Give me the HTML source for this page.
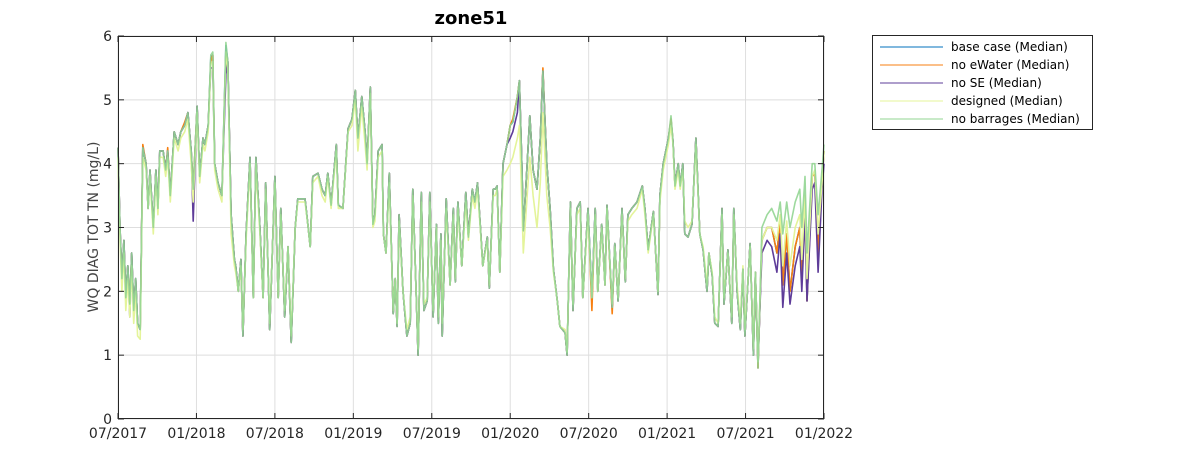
<!DOCTYPE html>
<html><head><meta charset="utf-8"><style>
body{margin:0;background:#fff;}
svg{display:block;font-family:"DejaVu Sans","Liberation Sans",sans-serif;}
</style></head><body>
<svg id="chart" width="1181" height="472" viewBox="0 0 1181 472" xmlns="http://www.w3.org/2000/svg">
<rect width="1181" height="472" fill="#fff"/>
<text x="471" y="24" text-anchor="middle" font-size="18" font-weight="bold" fill="#000">zone51</text>
<text transform="translate(98,227) rotate(-90)" text-anchor="middle" font-size="14" fill="#444">WQ DIAG TOT TN (mg/L)</text>
<g id="grid"></g>
<g id="series"></g>
<g id="axes"></g>
<g id="legend"></g>
</svg>
<script>
const xTickLabels=["07/2017","01/2018","07/2018","01/2019","07/2019","01/2020","07/2020","01/2021","07/2021","01/2022"];
const yTickValues=[0,1,2,3,4,5,6];
const seriesNames=["base case (Median)","no eWater (Median)","no SE (Median)","designed (Median)","no barrages (Median)"];
const seriesColors=["#0072bd","#f77f10","#5e3c99","#e4f49a","#92d592"];
const months=[0,.15,.3,.45,.6,.75,.9,1.05,1.2,1.35,
1.5,1.7,1.9,2.15,2.3,2.45,2.7,2.9,3.05,3.2,
3.45,3.65,3.8,4.0,4.3,4.6,4.8,5.1,5.35,5.6,
5.75,6.05,6.25,6.5,6.65,6.9,7.1,7.25,7.4,7.65,
7.95,8.25,8.4,8.65,8.9,9.0,9.2,9.4,9.55,9.8,
10.1,10.35,10.55,10.85,11.1,11.3,11.6,12.0,12.25,12.45,
12.75,13.0,13.25,13.55,13.75,14.05,14.3,14.55,14.7,14.9,
15.3,15.6,15.85,16.05,16.3,16.7,16.85,17.2,17.6,17.9,
18.15,18.35,18.65,18.9,19.05,19.3,19.5,19.65,19.9,20.2,
20.3,20.5,20.75,21.05,21.2,21.35,21.5,21.8,22.1,22.35,
22.55,22.8,22.95,23.2,23.4,23.65,23.85,24.1,24.35,24.5,
24.7,24.8,25.1,25.4,25.65,25.8,26.0,26.3,26.6,26.8,
27.1,27.3,27.5,27.7,27.9,28.25,28.4,28.7,28.85,29.0,
29.2,29.45,29.75,30.0,30.2,30.55,30.7,30.9,31.0,31.3,
31.5,31.75,32.05,32.3,32.5,32.8,33.05,33.3,33.6,33.8,
34.2,34.35,34.6,34.8,35.1,35.35,35.55,35.95,36.25,36.5,
36.7,37.0,37.25,37.4,37.8,38.0,38.25,38.55,38.8,39.0,
39.3,39.7,40.1,40.3,40.55,40.95,41.3,41.45,41.7,42.1,
42.3,42.45,42.6,42.85,43.0,43.2,43.35,43.6,43.9,44.2,
44.5,44.75,45.05,45.2,45.45,45.65,45.9,46.2,46.35,46.65,
46.95,47.1,47.35,47.6,47.8,47.95,48.35,48.6,48.75,48.95,
49.25,49.65,50.0,50.4,50.65,50.85,51.15,51.4,51.8,52.15,
52.3,52.55,52.7,53.1,53.3,53.55,53.85,54.0];
const baseCase=[4.25,3.0,2.2,2.8,1.9,2.4,1.8,2.6,1.7,2.2,
1.5,1.4,4.25,4.0,3.3,3.9,3.0,3.9,3.3,4.2,
4.2,3.9,4.2,3.5,4.5,4.3,4.5,4.6,4.8,4.2,
3.6,4.9,3.8,4.4,4.3,4.6,5.65,5.7,4.0,3.7,
3.5,5.85,5.6,3.2,2.5,2.4,2.0,2.5,1.3,2.9,
4.1,1.9,4.1,3.0,1.9,3.7,1.4,3.8,1.9,3.3,
1.6,2.7,1.2,3.0,3.45,3.45,3.45,3.0,2.7,3.8,
3.85,3.6,3.5,3.85,3.35,4.3,3.35,3.3,4.55,4.7,
5.15,4.4,5.05,4.5,4.0,5.2,3.05,3.2,4.2,4.3,
2.9,2.6,3.85,1.65,2.2,1.45,3.2,2.0,1.3,1.5,
3.6,2.0,1.0,3.55,1.7,1.85,3.55,1.6,3.05,1.5,
2.9,1.3,3.45,2.1,3.3,2.15,3.4,2.4,3.55,2.85,
3.6,3.4,3.7,3.05,2.4,2.85,2.05,3.6,3.6,3.65,
2.3,4.0,4.3,4.6,4.65,5.05,5.3,3.9,2.95,4.0,
4.75,3.9,3.6,4.4,5.45,4.0,3.3,2.35,1.85,1.45,
1.35,1.0,3.4,1.7,3.3,3.4,1.9,3.3,1.9,3.3,
2.0,3.05,2.1,3.35,1.75,2.75,1.85,3.3,2.15,3.2,
3.3,3.4,3.65,3.3,2.65,3.25,1.95,3.5,4.0,4.4,
4.7,4.35,3.65,4.0,3.65,4.0,2.9,2.85,3.05,4.4,
2.9,2.65,2.0,2.6,2.25,1.5,1.45,3.3,1.8,2.65,
1.5,3.3,2.0,1.4,2.35,1.3,2.75,1.0,2.3,0.8,
2.8,3.0,3.0,2.6,3.1,2.1,2.9,2.0,2.7,3.0,
2.2,3.4,1.85,3.8,3.85,2.6,3.75,4.2];
const noEwater=[4.25,3.0,2.2,2.8,1.9,2.4,1.8,2.6,1.7,2.2,
1.5,1.4,4.3,4.0,3.3,3.9,3.0,3.9,3.3,4.2,
4.2,3.9,4.25,3.5,4.5,4.3,4.5,4.65,4.8,4.2,
3.6,4.9,3.8,4.4,4.3,4.6,5.6,5.7,4.0,3.7,
3.5,5.75,5.6,3.2,2.5,2.4,2.0,2.5,1.3,2.9,
4.1,1.9,4.1,3.0,1.9,3.7,1.4,3.8,1.9,3.3,
1.6,2.7,1.2,3.0,3.45,3.45,3.45,3.0,2.7,3.8,
3.85,3.6,3.5,3.85,3.35,4.3,3.35,3.3,4.55,4.7,
5.15,4.4,5.05,4.5,4.0,5.2,3.05,3.2,4.2,4.3,
2.9,2.6,3.85,1.65,2.2,1.45,3.2,2.0,1.3,1.5,
3.6,2.0,1.0,3.55,1.7,1.85,3.55,1.6,3.05,1.5,
2.9,1.3,3.45,2.1,3.3,2.15,3.4,2.4,3.55,2.85,
3.6,3.4,3.7,3.05,2.4,2.85,2.05,3.6,3.6,3.65,
2.3,4.0,4.3,4.6,4.7,5.05,5.3,3.9,2.95,4.0,
4.75,3.9,3.6,4.4,5.5,4.0,3.3,2.35,1.85,1.45,
1.35,1.0,3.4,1.7,3.3,3.4,1.9,3.3,1.7,3.3,
2.0,3.05,2.1,3.35,1.65,2.75,1.85,3.3,2.15,3.2,
3.3,3.4,3.65,3.3,2.65,3.25,1.95,3.5,4.0,4.4,
4.7,4.35,3.65,4.0,3.65,4.0,2.9,2.85,3.05,4.4,
2.9,2.65,2.0,2.6,2.25,1.5,1.45,3.3,1.8,2.65,
1.5,3.3,2.0,1.4,2.35,1.3,2.75,1.0,2.3,0.8,
2.8,3.0,3.0,2.6,3.1,2.1,2.9,2.0,2.7,3.0,
2.2,3.4,1.85,3.8,3.85,2.6,3.75,4.2];
const noSE=[4.25,3.0,2.2,2.8,1.9,2.4,1.6,2.6,1.7,2.2,
1.5,1.4,4.25,4.0,3.3,3.9,3.0,3.9,3.3,4.2,
4.2,3.9,4.2,3.5,4.5,4.3,4.5,4.6,4.8,4.2,
3.1,4.9,3.8,4.4,4.3,4.6,5.5,5.5,4.0,3.7,
3.5,5.4,5.6,3.2,2.5,2.4,2.0,2.5,1.3,2.9,
4.1,1.9,4.1,3.0,1.9,3.7,1.4,3.8,1.9,3.3,
1.6,2.7,1.2,3.0,3.45,3.45,3.45,3.0,2.7,3.8,
3.85,3.6,3.5,3.85,3.35,4.3,3.35,3.3,4.55,4.7,
5.15,4.4,5.05,4.5,4.0,5.2,3.05,3.2,4.2,4.3,
2.9,2.6,3.85,1.65,2.2,1.45,3.2,2.0,1.3,1.5,
3.6,2.0,1.0,3.55,1.7,1.85,3.55,1.6,3.05,1.5,
2.9,1.3,3.45,2.1,3.3,2.15,3.4,2.4,3.55,2.85,
3.6,3.4,3.7,3.05,2.4,2.85,2.05,3.6,3.6,3.65,
2.3,4.0,4.3,4.4,4.5,4.8,5.3,3.9,2.95,4.0,
4.75,3.9,3.6,4.4,5.45,4.0,3.3,2.35,1.85,1.45,
1.35,1.0,3.4,1.7,3.3,3.4,1.9,3.3,1.9,3.3,
2.0,3.05,2.1,3.35,1.75,2.75,1.85,3.3,2.15,3.2,
3.3,3.4,3.65,3.3,2.65,3.25,1.95,3.5,4.0,4.4,
4.6,4.35,3.65,4.0,3.65,4.0,2.9,2.85,3.05,4.4,
2.9,2.65,2.0,2.6,2.25,1.5,1.45,3.3,1.8,2.65,
1.5,3.3,2.0,1.4,2.35,1.3,2.75,1.0,2.3,0.9,
2.6,2.8,2.7,2.3,2.9,1.75,2.6,1.8,2.4,2.7,
2.0,3.2,1.85,3.6,3.7,2.3,3.6,4.0];
const designed=[4.1,2.8,2.0,2.6,1.7,2.2,1.6,2.4,1.5,2.0,
1.3,1.25,4.1,3.9,3.3,3.8,2.9,3.8,3.2,4.1,
4.1,3.8,4.1,3.4,4.4,4.2,4.4,4.5,4.7,4.0,
3.4,4.8,3.7,4.3,4.2,4.5,5.55,5.6,3.9,3.6,
3.4,5.75,5.5,2.9,2.4,2.3,2.0,2.4,1.4,2.8,
4.0,1.9,4.0,2.9,1.9,3.6,1.5,3.7,1.9,3.2,
1.7,2.7,1.3,3.0,3.4,3.4,3.4,3.0,2.7,3.7,
3.8,3.5,3.4,3.8,3.3,4.2,3.3,3.3,4.5,4.6,
5.0,4.2,4.9,4.3,3.9,5.1,3.0,3.1,4.1,4.2,
2.9,2.6,3.7,1.7,2.2,1.5,3.1,2.0,1.4,1.6,
3.5,2.0,1.1,3.4,1.8,1.9,3.4,1.7,3.0,1.6,
2.8,1.5,3.3,2.1,3.2,2.2,3.3,2.4,3.4,2.8,
3.5,3.3,3.6,3.0,2.4,2.8,2.1,3.5,3.5,3.6,
2.3,3.8,3.9,4.0,4.1,4.4,4.6,3.3,2.6,3.5,
4.1,3.5,3.0,3.7,4.8,3.5,3.0,2.3,1.85,1.45,
1.4,1.05,3.3,1.8,3.2,3.3,1.9,3.2,1.9,3.2,
2.0,3.0,2.1,3.3,1.8,2.7,1.9,3.2,2.2,3.1,
3.2,3.3,3.6,3.2,2.6,3.2,2.0,3.4,3.9,4.3,
4.6,4.3,3.6,3.9,3.6,3.9,3.1,3.0,3.1,4.3,
2.9,2.7,2.1,2.6,2.3,1.6,1.5,3.2,1.9,2.6,
1.6,3.2,2.1,1.5,2.4,1.4,2.7,1.1,2.3,0.9,
2.8,3.0,3.0,2.8,3.2,2.4,3.1,2.4,3.0,3.2,
2.5,3.5,2.2,3.8,3.9,2.9,3.7,4.2];
const noBarrages=[4.25,3.0,2.2,2.8,1.9,2.4,1.8,2.6,1.7,2.2,
1.5,1.4,4.25,4.0,3.3,3.9,3.0,3.9,3.3,4.2,
4.2,3.9,4.2,3.5,4.5,4.3,4.5,4.6,4.8,4.2,
3.6,4.9,3.8,4.4,4.3,4.6,5.7,5.75,4.0,3.7,
3.5,5.9,5.6,3.2,2.5,2.4,2.0,2.5,1.3,2.9,
4.1,1.9,4.1,3.0,1.9,3.7,1.4,3.8,1.9,3.3,
1.6,2.7,1.2,3.0,3.45,3.45,3.45,3.0,2.7,3.8,
3.85,3.6,3.5,3.85,3.35,4.3,3.35,3.3,4.55,4.7,
5.15,4.4,5.05,4.5,4.0,5.2,3.05,3.2,4.2,4.3,
2.9,2.6,3.85,1.65,2.2,1.45,3.2,2.0,1.3,1.5,
3.6,2.0,1.0,3.55,1.7,1.85,3.55,1.6,3.05,1.5,
2.9,1.3,3.45,2.1,3.3,2.15,3.4,2.4,3.55,2.85,
3.6,3.4,3.7,3.05,2.4,2.85,2.05,3.6,3.6,3.65,
2.3,4.0,4.3,4.6,4.65,5.05,5.3,3.9,2.95,4.0,
4.75,3.9,3.6,4.4,5.45,4.0,3.3,2.35,1.85,1.45,
1.35,1.0,3.4,1.7,3.3,3.4,1.9,3.3,1.9,3.3,
2.0,3.05,2.1,3.35,1.75,2.75,1.85,3.3,2.15,3.2,
3.3,3.4,3.65,3.3,2.65,3.25,1.95,3.5,4.0,4.4,
4.75,4.35,3.65,4.0,3.65,4.0,2.9,2.85,3.05,4.4,
2.9,2.65,2.0,2.6,2.25,1.5,1.45,3.3,1.8,2.65,
1.5,3.3,2.0,1.4,2.35,1.3,2.75,1.0,2.3,0.8,
3.0,3.2,3.3,3.1,3.4,2.9,3.4,3.0,3.4,3.6,
3.0,3.8,2.6,4.0,4.0,3.2,3.9,4.3];
const allSeries=[baseCase,noEwater,noSE,designed,noBarrages];

const NS="http://www.w3.org/2000/svg";
const L=118,R=824,T=36,B=419,YMAX=6,XMAX=54;
function xs(m){return L+(m/XMAX)*(R-L);}
function ys(v){return B-(v/YMAX)*(B-T);}
function mk(tag,attrs,parent){const e=document.createElementNS(NS,tag);for(const k in attrs)e.setAttribute(k,attrs[k]);parent.appendChild(e);return e;}
const grid=document.getElementById('grid'),axes=document.getElementById('axes'),ser=document.getElementById('series'),leg=document.getElementById('legend');
mk('rect',{x:L,y:T,width:R-L,height:B-T,fill:'#fff'},grid);
xTickLabels.forEach((lab,i)=>{
  const x=xs(i*6);
  const g=mk('line',{x1:x,x2:x,y1:T,y2:B,stroke:'#dedede','stroke-width':1},grid);
  
  
  mk('line',{x1:x,x2:x,y1:B,y2:B-6,stroke:'#262626','stroke-width':1},axes);
  mk('line',{x1:x,x2:x,y1:T,y2:T+6,stroke:'#262626','stroke-width':1},axes);
  const t=mk('text',{x:x,y:438,'text-anchor':'middle','font-size':14,fill:'#262626'},axes);
  t.textContent=lab;
  
  
});
yTickValues.forEach(v=>{
  const y=ys(v);
  const g=mk('line',{x1:L,x2:R,y1:y,y2:y,stroke:'#dedede','stroke-width':1},grid);
  
  
  mk('line',{x1:L,x2:L+6,y1:y,y2:y,stroke:'#262626','stroke-width':1},axes);
  mk('line',{x1:R,x2:R-6,y1:y,y2:y,stroke:'#262626','stroke-width':1},axes);
  const t=mk('text',{x:112,y:y+5,'text-anchor':'end','font-size':14,fill:'#262626'},axes);
  t.textContent=String(v);
  
  
});
const box=mk('rect',{x:L+0.5,y:T+0.5,width:R-L-1,height:B-T-1,fill:'none',stroke:'#262626','stroke-width':1},axes);


allSeries.forEach((s,si)=>{
  const n=Math.min(s.length,months.length);
  let d='';
  for(let i=0;i<n;i++)d+=(i?'L':'M')+xs(months[i]).toFixed(1)+' '+ys(s[i]).toFixed(1);
  const p=mk('path',{d:d,fill:'none',stroke:seriesColors[si],'stroke-width':1.6,'stroke-linejoin':'round','stroke-opacity':si===4?0.9:1},ser);
  
  
});
const lb=mk('rect',{x:872.5,y:35.5,width:220,height:94,fill:'#fff',stroke:'#262626','stroke-width':1},leg);


seriesNames.forEach((nm,i)=>{
  const y=47+i*18;
  const ln=mk('line',{x1:880,x2:943,y1:y,y2:y,stroke:seriesColors[i],'stroke-width':1},leg);
  
  
  const t=mk('text',{x:951,y:y+4,'font-size':12,fill:'#000'},leg);
  t.textContent=nm;
  
  
});
</script>
</body></html>
